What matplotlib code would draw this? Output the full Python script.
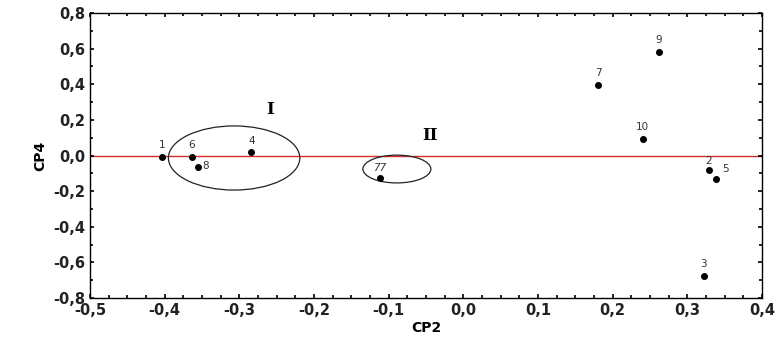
import matplotlib
matplotlib.use("Agg")
import matplotlib.pyplot as plt
from matplotlib.patches import Ellipse
from matplotlib.ticker import MultipleLocator, FuncFormatter

labels = ["1", "6", "8", "4", "77", "7", "9", "10", "2", "5", "3"]
cp2 = [-0.404, -0.364, -0.355, -0.284, -0.112, 0.181, 0.262, 0.240, 0.329, 0.338, 0.322]
cp4 = [-0.010, -0.010, -0.063, 0.017, -0.128, 0.398, 0.580, 0.091, -0.081, -0.130, -0.677]

fig = plt.figure(figsize=(7.78, 3.45), dpi=100)
ax = fig.add_axes([90/778, 1-298/345, (762-90)/778, (298-13)/345])

ax.axhline(0, color="#d42a2a", lw=1.0, zorder=1)
ax.scatter(cp2, cp4, s=16, color="black", zorder=3)

offsets = {"8": (3, -3), "5": (5, 3), "77": (0, 4), "2": (0, 3)}
for lab, x, y in zip(labels, cp2, cp4):
    dx, dy = offsets.get(lab, (0, 5))
    ha = "left" if lab in ("8", "5") else "center"
    ax.annotate(lab, (x, y), xytext=(dx, dy), textcoords="offset points",
                ha=ha, va="bottom", fontsize=7.5, color="#333333",
                style="italic" if lab == "77" else "normal")

ax.add_patch(Ellipse((-0.307, -0.014), 0.176, 0.36, fill=False, ec="#222222", lw=0.9))
ax.add_patch(Ellipse((-0.089, -0.076), 0.091, 0.156, fill=False, ec="#222222", lw=0.9))
ax.text(-0.259, 0.256, "I", fontsize=12, fontweight="bold", family="DejaVu Serif", ha="center", va="center")
ax.text(-0.045, 0.115, "II", fontsize=12, fontweight="bold", family="DejaVu Serif", ha="center", va="center")

ax.set_xlim(-0.5, 0.4)
ax.set_ylim(-0.8, 0.8)
ax.xaxis.set_major_locator(MultipleLocator(0.1))
ax.xaxis.set_minor_locator(MultipleLocator(0.025))
ax.yaxis.set_major_locator(MultipleLocator(0.2))
ax.yaxis.set_minor_locator(MultipleLocator(0.1))
fmt = FuncFormatter(lambda v, p: f"{v:.1f}".replace(".", ",").replace("-0,0", "0,0"))
ax.xaxis.set_major_formatter(fmt)
ax.yaxis.set_major_formatter(fmt)
ax.tick_params(which="both", top=True, right=True, direction="in", labelsize=10.5, width=1.2)
ax.tick_params(which="major", length=3)
ax.tick_params(which="minor", length=2.5)
for t in ax.get_xticklabels() + ax.get_yticklabels():
    t.set_fontweight("bold")
    t.set_color("#222222")
ax.set_xlabel("CP2", fontsize=10, fontweight="bold", labelpad=2)
ax.set_ylabel("CP4", fontsize=10, fontweight="bold", labelpad=4)
for s in ax.spines.values():
    s.set_linewidth(1.0)

fig.savefig("out.png", dpi=100)
